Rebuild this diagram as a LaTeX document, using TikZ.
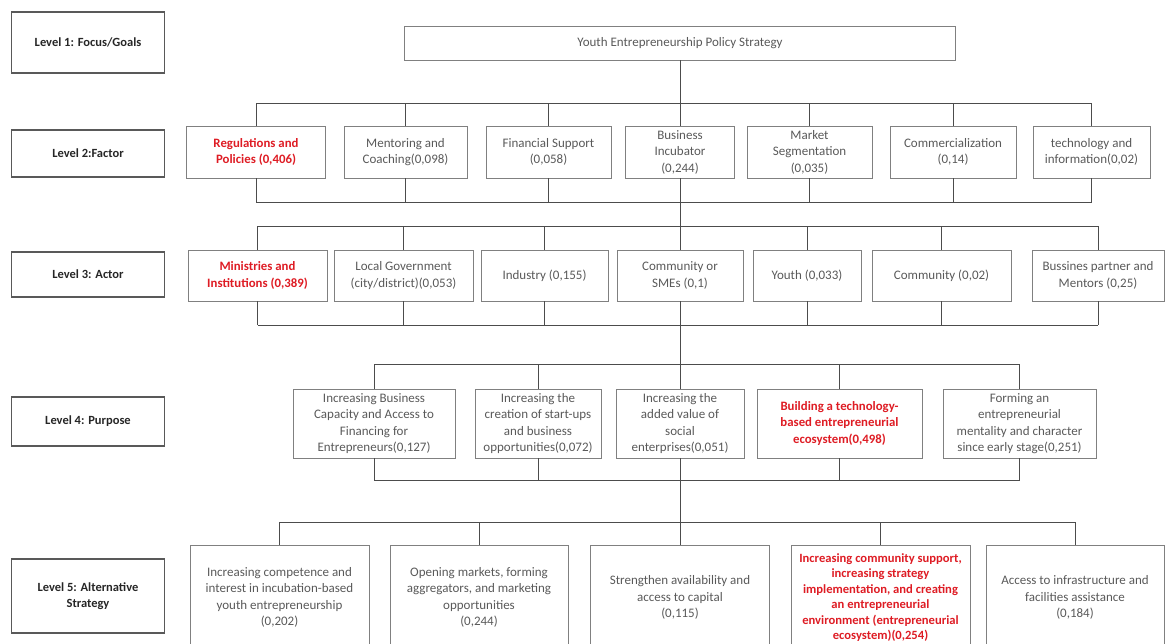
\documentclass[tikz,border=0pt]{standalone}
\usepackage{fontspec}
\setmainfont{Carlito}
\definecolor{hot}{RGB}{222,28,36}
\definecolor{ink}{RGB}{89,89,89}

\begin{document}
\begin{tikzpicture}[x=1pt, y=-1pt,
  box/.style={draw=black!50, line width=0.8pt, text=ink, align=center, inner sep=2pt,
    font=\fontsize{13}{16.5}\selectfont},
  lvl/.style={draw=black!65, line width=1.2pt, text=black!85, align=center,
    minimum width=153pt, font=\fontsize{12.5}{16.5}\selectfont\bfseries},
  key/.style={text=hot, font=\fontsize{12.8}{16.5}\selectfont\bfseries},
  row2/.style={box, minimum height=52pt},
  row3/.style={box, minimum height=51pt},
  row4/.style={box, minimum height=69pt},
  row5/.style={box, minimum height=105pt},
  link/.style={draw=black!70, line width=0.9pt}]
\clip (0,0) rectangle (1167,643);
% level labels
\node[lvl, minimum height=61pt] (lv1) at (88,42.5) {Level 1: Focus/Goals};
\node[lvl, minimum height=47pt] (lv2) at (88,153.5) {Level 2:Factor};
\node[lvl, minimum height=45pt] (lv3) at (88,274.5) {Level 3: Actor};
\node[lvl, minimum height=49pt] (lv4) at (88,421.5) {Level 4: Purpose};
\node[lvl, minimum height=74pt] (lv5) at (88,596) {Level 5: Alternative\\Strategy};
% goal
\node[box, minimum width=551pt, minimum height=34pt] (goal) at (680,43) {Youth Entrepreneurship Policy Strategy};
% factors
\node[row2, key, minimum width=139pt] (reg) at (256,152) {Regulations and\\Policies (0,406)};
\node[row2, minimum width=123pt] (ment) at (405.5,152) {Mentoring and\\Coaching(0,098)};
\node[row2, minimum width=125pt] (fin) at (548.5,152) {Financial Support\\(0,058)};
\node[row2, minimum width=109pt] (biz) at (680,152) {Business\\Incubator\\(0,244)};
\node[row2, minimum width=125pt] (mkt) at (809.5,152) {Market\\Segmentation\\(0,035)};
\node[row2, minimum width=126pt] (com) at (953,152) {Commercialization\\(0,14)};
\node[row2, minimum width=117pt] (tech) at (1091.5,152) {technology and\\information(0,02)};
% actors
\node[row3, key, minimum width=139pt] (mins) at (257.5,275.5) {Ministries and\\Institutions (0,389)};
\node[row3, minimum width=139pt] (loc) at (403.5,275.5) {Local Government\\(city/district)(0,053)};
\node[row3, minimum width=127pt] (ind) at (544.5,275.5) {Industry (0,155)};
\node[row3, minimum width=126pt] (sme) at (680,275.5) {Community or\\SMEs (0,1)};
\node[row3, minimum width=108pt] (yth) at (807,275.5) {Youth (0,033)};
\node[row3, minimum width=139pt] (cmt) at (941.5,275.5) {Community (0,02)};
\node[row3, minimum width=132pt] (bp) at (1098,275.5) {Bussines partner and\\Mentors (0,25)};
% purposes
\node[row4, minimum width=162pt] (pa) at (374,423.5) {Increasing Business\\Capacity and Access to\\Financing for\\Entrepreneurs(0,127)};
\node[row4, minimum width=126pt] (pb) at (538,423.5) {Increasing the\\creation of start-ups\\and business\\opportunities(0,072)};
\node[row4, minimum width=128pt] (pc) at (680,423.5) {Increasing the\\added value of\\social\\enterprises(0,051)};
\node[row4, key, minimum width=165pt] (pd) at (839.5,423.5) {Building a technology-\\based entrepreneurial\\ecosystem(0,498)};
\node[row4, minimum width=153pt] (pe) at (1019.5,423.5) {Forming an\\entrepreneurial\\mentality and character\\since early stage(0,251)};
% alternatives
\node[row5, minimum width=179pt] (sa) at (279.5,597.5) {Increasing competence and\\interest in incubation-based\\youth entrepreneurship\\(0,202)};
\node[row5, minimum width=178pt] (sb) at (479,597.5) {Opening markets, forming\\aggregators, and marketing\\opportunities\\(0,244)};
\node[row5, minimum width=179pt] (sc) at (680,597.5) {Strengthen availability and\\access to capital\\(0,115)};
\node[row5, key, font=\fontsize{12.6}{15.5}\selectfont\bfseries, minimum width=179pt] (sd) at (880.5,597.5) {Increasing community support,\\increasing strategy\\implementation, and creating\\an entrepreneurial\\environment (entrepreneurial\\ecosystem)(0,254)};
\node[row5, minimum width=178pt] (se) at (1075,597.5) {Access to infrastructure and\\facilities assistance\\(0,184)};
% bus heights
\coordinate (b2t) at (680,103);
\coordinate (b2b) at (680,202);
\coordinate (b3t) at (680,226);
\coordinate (b3b) at (680,325);
\coordinate (b4t) at (680,364);
\coordinate (b4b) at (680,480);
\coordinate (b5t) at (680,522);
% spine
\draw[link] (goal) -- (biz);
\draw[link] (biz) -- (sme);
\draw[link] (sme) -- (pc);
\draw[link] (pc) -- (sc);
% level 2
\draw[link] (reg.north |- b2t) -- (tech.north |- b2t);
\draw[link] (reg.south |- b2b) -- (tech.south |- b2b);
\foreach \n in {reg,ment,fin,mkt,com,tech} {
  \draw[link] (\n.north) -- (\n.north |- b2t);
  \draw[link] (\n.south) -- (\n.south |- b2b);
}
% level 3
\draw[link] (mins.north |- b3t) -- (bp.north |- b3t);
\draw[link] (mins.south |- b3b) -- (bp.south |- b3b);
\foreach \n in {mins,loc,ind,yth,cmt,bp} {
  \draw[link] (\n.north) -- (\n.north |- b3t);
  \draw[link] (\n.south) -- (\n.south |- b3b);
}
% level 4
\draw[link] (pa.north |- b4t) -- (pe.north |- b4t);
\draw[link] (pa.south |- b4b) -- (pe.south |- b4b);
\foreach \n in {pa,pb,pd,pe} {
  \draw[link] (\n.north) -- (\n.north |- b4t);
  \draw[link] (\n.south) -- (\n.south |- b4b);
}
% level 5
\draw[link] (sa.north |- b5t) -- (se.north |- b5t);
\foreach \n in {sa,sb,sd,se}
  \draw[link] (\n.north) -- (\n.north |- b5t);
\end{tikzpicture}
\end{document}
